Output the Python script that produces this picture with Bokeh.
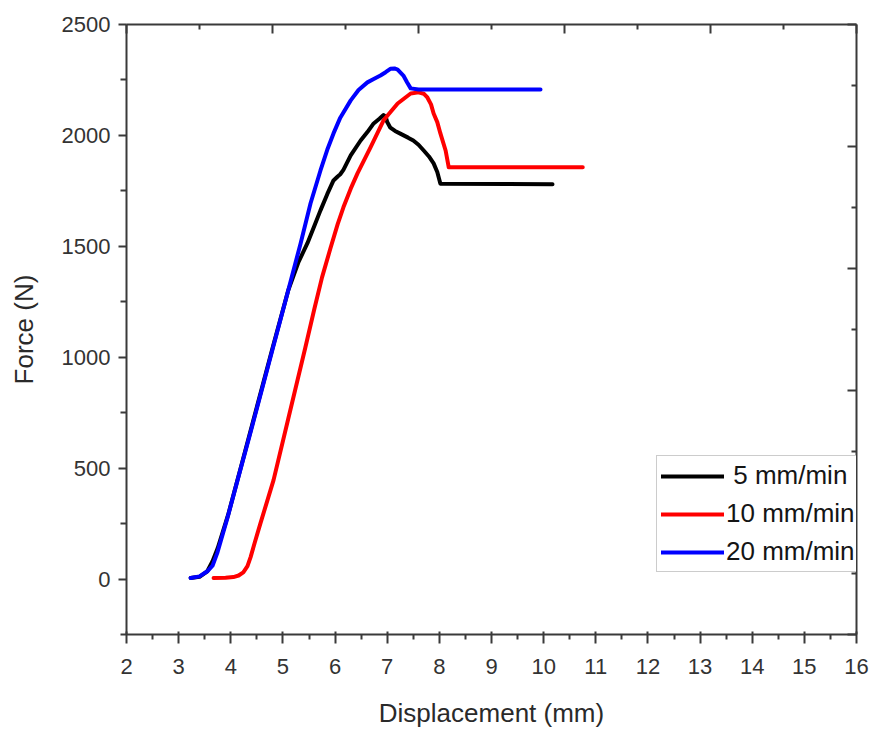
from bokeh.plotting import figure
from bokeh.models import Range1d, LinearAxis, FixedTicker, Legend, LegendItem, CustomJSTickFormatter
from bokeh.embed import file_html
from bokeh.resources import INLINE

# ---- data ----
x_5 = [3.23, 3.40, 3.55, 3.65, 3.75, 3.95, 4.2, 4.5, 4.8, 5.1, 5.3, 5.47, 5.6, 5.72, 5.85,
       5.97, 6.05, 6.1, 6.16, 6.3, 6.49, 6.62, 6.74, 6.85, 6.93, 6.97, 7.0, 7.06, 7.15,
       7.25, 7.4, 7.5, 7.6, 7.7, 7.8, 7.89, 7.96, 8.02, 10.17]
f_5 = [5, 10, 35, 80, 140, 290, 510, 775, 1040, 1300, 1430, 1514, 1590, 1662, 1735,
       1797, 1815, 1825, 1845, 1910, 1977, 2015, 2054, 2075, 2092, 2085, 2060, 2035, 2020,
       2008, 1990, 1977, 1958, 1932, 1905, 1874, 1835, 1782, 1780]

x_10 = [3.67, 3.9, 4.05, 4.15, 4.24, 4.32, 4.38, 4.46, 4.57, 4.82, 5.1, 5.43, 5.6, 5.75,
        5.91, 6.05, 6.16, 6.3, 6.43, 6.68, 6.93, 7.2, 7.45, 7.6, 7.7, 7.77, 7.84, 7.89,
        7.96, 8.02, 8.12, 8.18, 10.75]
f_10 = [5, 6, 9, 16, 30, 58, 99, 165, 252, 446, 720, 1044, 1215, 1360,
        1490, 1600, 1676, 1760, 1829, 1946, 2068, 2144, 2189, 2194, 2188, 2171, 2140, 2099,
        2060, 2009, 1932, 1856, 1856]

x_20 = [3.23, 3.40, 3.55, 3.65, 3.74, 3.94, 4.13, 4.4, 4.8, 5.1, 5.34, 5.53, 5.72, 5.85,
        5.97, 6.1, 6.3, 6.45, 6.62, 6.75, 6.87, 6.97, 7.06, 7.14, 7.2, 7.31, 7.38, 7.45,
        7.6, 9.94]
f_20 = [5, 12, 35, 60, 117, 279, 446, 680, 1035, 1300, 1514, 1694, 1842, 1935,
        2009, 2080, 2158, 2205, 2239, 2255, 2270, 2285, 2300, 2302, 2297, 2270, 2240, 2212,
        2207, 2207]

series_labels = ["\u20085 mm/min", "10 mm/min", "20 mm/min"]
series_colors = ["#000000", "#ff0000", "#0000ff"]

x_ticks = list(range(2, 17))
x_minor = [v + 0.5 for v in range(2, 16)]
y_ticks = [0, 500, 1000, 1500, 2000, 2500]
y_minor = [-250, 250, 750, 1250, 1750, 2250]

FONT = "Liberation Sans"
AX = "#3a3a3a"

p = figure(width=872, height=731, output_backend="svg", toolbar_location=None,
           x_range=Range1d(2, 16), y_range=Range1d(-250, 2500),
           x_axis_location=None, y_axis_location=None,
           min_border_left=126, min_border_right=16, min_border_top=24, min_border_bottom=97)
p.outline_line_color = None
p.xgrid.visible = False
p.ygrid.visible = False
p.background_fill_color = "white"

p.extra_x_ranges = {"top": Range1d(0, 10)}
p.extra_y_ranges = {"right": Range1d(0, 10)}

empty = CustomJSTickFormatter(code="return ''")

def style(ax):
    ax.axis_line_color = AX
    ax.axis_line_width = 2
    ax.major_tick_line_color = AX
    ax.minor_tick_line_color = AX
    ax.major_tick_line_width = 2
    ax.minor_tick_line_width = 2
    ax.major_label_text_font = FONT
    ax.major_label_text_font_size = "22px"
    ax.major_label_text_color = "#333333"
    ax.axis_label_text_font = FONT
    ax.axis_label_text_font_size = "26px"
    ax.axis_label_text_font_style = "normal"
    ax.axis_label_text_color = "#2a2a2a"

xb = LinearAxis(ticker=FixedTicker(ticks=x_ticks, minor_ticks=x_minor), axis_label="Displacement (mm)")
style(xb)
xb.major_tick_out = 9
xb.major_tick_in = 3
xb.minor_tick_out = 5
xb.minor_tick_in = 0
xb.major_label_standoff = 15
xb.axis_label_standoff = 21
p.add_layout(xb, "below")

yl = LinearAxis(ticker=FixedTicker(ticks=y_ticks, minor_ticks=y_minor), axis_label="Force (N)")
style(yl)
yl.major_tick_out = 8
yl.major_tick_in = 0
yl.minor_tick_out = 6
yl.minor_tick_in = 0
yl.major_label_standoff = 8
yl.axis_label_standoff = 20
p.add_layout(yl, "left")

xt = LinearAxis(x_range_name="top", ticker=FixedTicker(ticks=[0, 2, 4, 6, 8, 10], minor_ticks=[1, 3, 5, 7, 9]),
                formatter=empty)
style(xt)
xt.major_tick_out = 0
xt.major_tick_in = 9
xt.minor_tick_out = 0
xt.minor_tick_in = 5
xt.major_label_standoff = 0
p.add_layout(xt, "above")

yr = LinearAxis(y_range_name="right", ticker=FixedTicker(ticks=[0, 2, 4, 6, 8, 10], minor_ticks=[1, 3, 5, 7, 9]),
                formatter=empty)
style(yr)
yr.major_tick_out = 0
yr.major_tick_in = 9
yr.minor_tick_out = 0
yr.minor_tick_in = 5
yr.major_label_standoff = 0
p.add_layout(yr, "right")

r5 = p.line(x_5, f_5, line_color=series_colors[0], line_width=4, line_join="round", line_cap="round")
r10 = p.line(x_10, f_10, line_color=series_colors[1], line_width=4, line_join="round", line_cap="round")
r20 = p.line(x_20, f_20, line_color=series_colors[2], line_width=4, line_join="round", line_cap="round")

legend = Legend(items=[LegendItem(label=series_labels[0], renderers=[r5]),
                       LegendItem(label=series_labels[1], renderers=[r10]),
                       LegendItem(label=series_labels[2], renderers=[r20])],
                location=(530, 62))
legend.label_text_font = FONT
legend.label_text_font_size = "26px"
legend.label_text_color = "#151515"
legend.glyph_width = 63
legend.glyph_height = 30
legend.label_height = 30
legend.spacing = 7
legend.padding = 4
legend.margin = 0
legend.label_standoff = 2
legend.border_line_color = "#9a9a9a"
legend.border_line_width = 1
legend.background_fill_alpha = 1
p.add_layout(legend, "center")

open("out.html", "w").write(file_html(p, INLINE))
